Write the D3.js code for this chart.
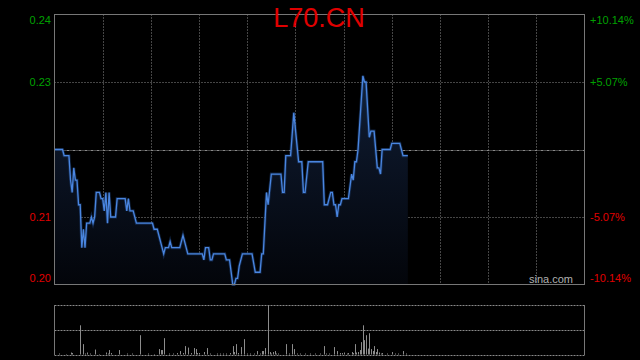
<!DOCTYPE html>
<html><head><meta charset="utf-8">
<script src="https://cdn.jsdelivr.net/npm/d3@7"></script>
<style>html,body{margin:0;padding:0;background:#000;}svg{display:block;}</style>
</head><body>
<svg id="c" width="640" height="360"></svg>
<script>
const title = "L70.CN";
const prevClose = 0.217;
const tickValues = [0.239, 0.228, 0.217, 0.206, 0.195];
const leftLabels = ["0.24", "0.23", "", "0.21", "0.20"];
const rightLabels = ["+10.14%", "+5.07%", "", "-5.07%", "-10.14%"];
const sessionMinutes = 330;
const gridMinutes = [30,60,90,120,150,180,210,240,270,300];
const priceMinutes = [0,5,6,9,10,11,12,13,14,15,16,17,18,19,20,22,23,24,25,26,28,29,30,31,32,33,34,35,38,39,44,45,46,47,49,51,61,62,64,68,69,71,72,73,78,80,83,92,93,94,96,97,98,99,106,107,109,111,112,113,114,115,117,123,125,128,129,130,132,133,135,141,142,143,144,147,149,152,154,155,156,158,167,168,170,172,173,174,175,176,177,178,179,183,185,186,187,188,189,192,193,194,196,197,199,201,202,203,204,209,210,215,217,220];
const prices = [0.217,0.217,0.216,0.216,0.212,0.210,0.214,0.212,0.212,0.208,0.208,0.201,0.204,0.201,0.205,0.205,0.206,0.205,0.206,0.210,0.210,0.209,0.209,0.207,0.210,0.205,0.210,0.206,0.206,0.209,0.209,0.207,0.209,0.207,0.207,0.205,0.205,0.204,0.204,0.200,0.201,0.201,0.202,0.201,0.201,0.203,0.200,0.200,0.199,0.201,0.201,0.199,0.199,0.200,0.200,0.199,0.199,0.195,0.195,0.196,0.196,0.198,0.200,0.200,0.197,0.197,0.200,0.200,0.210,0.208,0.213,0.213,0.210,0.210,0.216,0.216,0.223,0.215,0.215,0.210,0.210,0.215,0.215,0.208,0.208,0.210,0.210,0.208,0.208,0.206,0.208,0.208,0.209,0.209,0.213,0.212,0.215,0.215,0.217,0.229,0.228,0.228,0.219,0.220,0.220,0.214,0.214,0.213,0.217,0.217,0.218,0.218,0.216,0.216];
const volMinutes = [3,7,10,11,16,18,19,20,22,25,28,32,33,34,35,40,45,48,53,58,62,65,66,67,68,71,74,76,78,80,81,83,85,87,88,89,90,93,95,97,101,103,105,107,109,111,112,113,114,116,118,120,122,124,126,128,129,130,131,133,134,135,136,137,138,139,144,146,148,149,151,153,156,159,162,165,168,169,171,174,176,178,179,180,182,183,185,186,187,188,189,190,191,192,193,194,195,196,197,198,199,200,201,202,203,204,207,210,212,214,217,219];
const volumes = [2,1,4,3,59,21,2,4,2,10,1,4,2,9,3,9,2,2,39,2,1,11,9,9,33,2,2,3,7,3,17,14,3,13,11,3,3,5,13,2,2,2,2,2,3,17,5,21,3,15,31,2,2,2,7,2,7,7,13,100,5,2,5,7,2,2,21,2,21,11,2,2,2,2,2,2,17,2,2,15,7,3,3,4,2,3,5,3,21,4,5,9,25,59,29,39,12,43,11,7,17,5,11,4,2,3,2,5,2,2,7,2];
const watermark = "sina.com";

const svg = d3.select("#c");
const L = 54.5, R = 584.5, T = 14.5, B = 284.5, VT = 305, VB = 354.5;
const font = "'Liberation Sans', Arial, Helvetica, sans-serif";
const x = d3.scaleLinear().domain([0, sessionMinutes]).range([L, R]);
const y = d3.scaleLinear().domain([tickValues[4], tickValues[0]]).range([B, T]);
const yv = d3.scaleLinear().domain([0, d3.max(volumes)]).range([VB, VT]);

const defs = svg.append("defs");
const grad = defs.append("linearGradient").attr("id","ag").attr("gradientUnits","userSpaceOnUse")
  .attr("x1",0).attr("y1",T).attr("x2",0).attr("y2",B);
grad.append("stop").attr("offset","0%").attr("stop-color","#18304f");
grad.append("stop").attr("offset","45%").attr("stop-color","#0c1628");
grad.append("stop").attr("offset","100%").attr("stop-color","#03050a");

// vertical grid
svg.append("g").selectAll("line").data(gridMinutes).join("line")
  .attr("x1", d => Math.round(x(d)) + 0.5).attr("x2", d => Math.round(x(d)) + 0.5)
  .attr("y1", T).attr("y2", B)
  .attr("stroke", "#8a8a8a").attr("stroke-dasharray", "1,2");

// horizontal grid
svg.append("g").selectAll("line").data(tickValues.slice(1, 4)).join("line")
  .attr("x1", L).attr("x2", R)
  .attr("y1", d => Math.round(y(d)) + 0.5).attr("y2", d => Math.round(y(d)) + 0.5)
  .attr("stroke", "#8a8a8a")
  .attr("stroke-dasharray", d => d === prevClose ? "3,1,1,1" : "1,2");

// area + line
const pts = priceMinutes.map((m, i) => [m, prices[i]]);
svg.append("path").datum(pts)
  .attr("d", d3.area().x(d => x(d[0])).y0(B).y1(d => y(d[1])))
  .attr("fill", "url(#ag)");
svg.append("path").datum(pts)
  .attr("d", d3.line().x(d => x(d[0])).y(d => y(d[1])))
  .attr("fill", "none").attr("stroke", "#2a5fb0").attr("stroke-width", 3).attr("stroke-opacity", 0.35);
svg.append("path").datum(pts)
  .attr("d", d3.line().x(d => x(d[0])).y(d => y(d[1])))
  .attr("fill", "none").attr("stroke", "#4a86e0").attr("stroke-width", 1.3);

// price frame
svg.append("rect").attr("x", L).attr("y", T).attr("width", R - L).attr("height", B - T)
  .attr("fill", "none").attr("stroke", "#777");

// labels
const lab = svg.append("g").attr("font-family", font).attr("font-size", 11);
tickValues.forEach((v, i) => {
  if (!leftLabels[i]) return;
  const yy = i === 0 ? y(v) + 6 : (i === tickValues.length - 1 ? y(v) - 6.5 : y(v));
  const col = v > prevClose ? "#00a000" : "#e00000";
  lab.append("text").attr("x", 51).attr("y", yy).attr("dy", "0.35em")
    .attr("text-anchor", "end").attr("fill", col).text(leftLabels[i]);
  lab.append("text").attr("x", 590).attr("y", yy).attr("dy", "0.35em")
    .attr("text-anchor", "start").attr("fill", col).text(rightLabels[i]);
});

// title
svg.append("text").attr("x", 319).attr("y", 27).attr("text-anchor", "middle")
  .attr("font-family", font).attr("font-size", 27).attr("fill", "#e00000").text(title);

// watermark
svg.append("text").attr("x", 573).attr("y", 283).attr("text-anchor", "end")
  .attr("font-family", font).attr("font-size", 11).attr("fill", "#b0b0b0").text(watermark);

// volume panel
svg.append("g").selectAll("line").data([VT, (VT + VB) / 2, VB]).join("line")
  .attr("x1", L).attr("x2", R)
  .attr("y1", d => Math.round(d) + 0.5).attr("y2", d => Math.round(d) + 0.5)
  .attr("stroke", "#8a8a8a").attr("stroke-dasharray", "2,1");
svg.append("g").selectAll("line").data([L, R]).join("line")
  .attr("x1", d => d).attr("x2", d => d).attr("y1", VT).attr("y2", VB + 0.5)
  .attr("stroke", "#777");
svg.append("g").selectAll("rect").data(volMinutes.map((m, i) => [m, volumes[i]])).join("rect")
  .attr("x", d => Math.round(x(d[0]))).attr("width", 1)
  .attr("y", d => yv(d[1])).attr("height", d => VB - yv(d[1]))
  .attr("fill", "#8c8c8c");
</script>
</body></html>
